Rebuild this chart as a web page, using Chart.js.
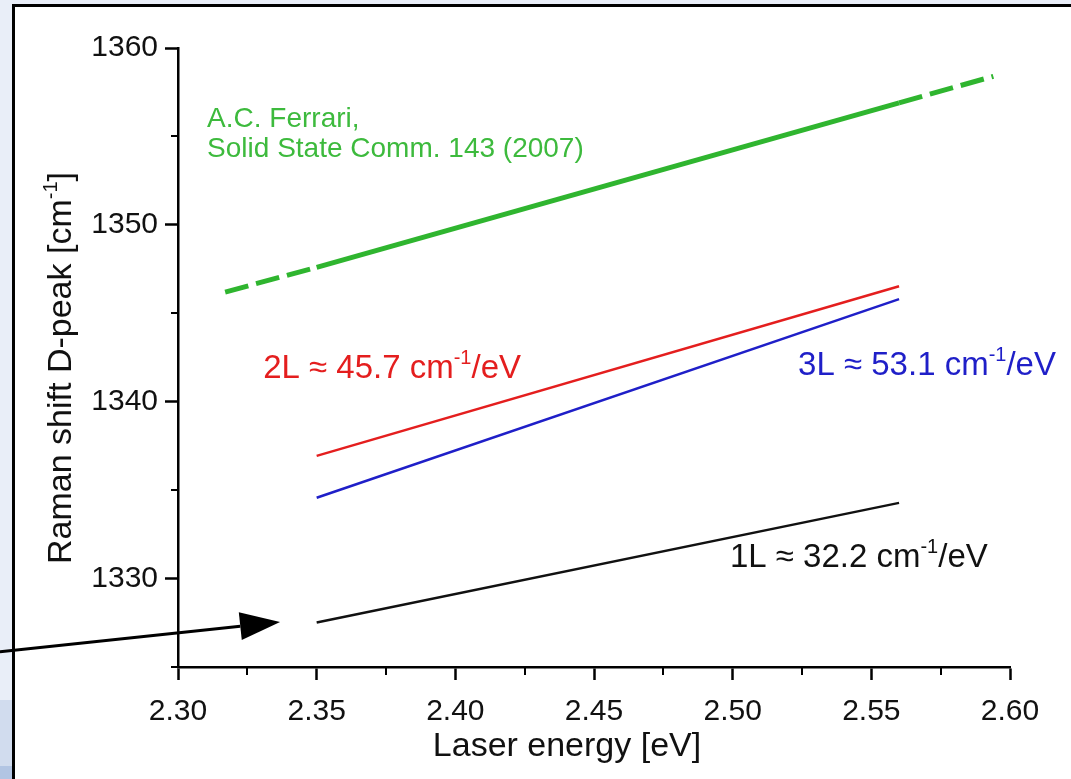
<!DOCTYPE html>
<html>
<head>
<meta charset="utf-8">
<script src="https://cdn.jsdelivr.net/npm/chart.js@4"></script>
<style>
  html, body { margin: 0; padding: 0; overflow: hidden; }
  body {
    width: 1071px; height: 779px; position: relative;
    background: linear-gradient(to bottom, #e9eef8 0px, #e9eef8 700px, #d1dcee 700px, #d1dcee 766px, #b2c5e3 766px);
  }
  #frame {
    position: absolute; left: 12px; top: 4px; width: 1200px; height: 900px;
    background: #fff; border: 3px solid #000;
  }
  #wrap { position: absolute; left: 0; top: 0; width: 1071px; height: 779px; }
</style>
</head>
<body>
<div id="frame"></div>
<div id="wrap"><canvas id="chart_canvas" width="1071" height="779"></canvas></div>
<script>
// laser energy vs D-peak position, fits for 1-3 layers
const energy = [2.35, 2.56];
const shift_1l = [1327.52, 1334.28];
const shift_2l = [1336.94, 1346.53];
const shift_3l = [1334.57, 1345.80];

// literature line (dashed where extrapolated)
const energy_lit = [2.317, 2.35, 2.56, 2.594];
const shift_lit = [1346.2, 1347.6, 1356.9, 1358.4];

const x_ticks = [2.30, 2.35, 2.40, 2.45, 2.50, 2.55, 2.60];
const y_ticks = [1330, 1340, 1350, 1360];
const x_minor = [2.325, 2.375, 2.425, 2.475, 2.525, 2.575];
const y_minor = [1325, 1335, 1345, 1355];

// labels: text, superscript, tail, color, anchor (energy, shift)
const slope_labels = [
  ["2L \u2248 45.7 cm", "-1", "/eV", "#e41e1e", 2.3307, 1341.35],
  ["3L \u2248 53.1 cm", "-1", "/eV", "#1f1fc8", 2.5236, 1341.52],
  ["1L \u2248 32.2 cm", "-1", "/eV", "#111111", 2.4990, 1330.66]
];
const ref_lines = ["A.C. Ferrari,", "Solid State Comm. 143 (2007)"];
const ref_pos = [2.3105, 1355.53, 1353.84];

// arrow pointing at the 1L start, in data units
const arrow_from = [2.2358, 1325.86];
const arrow_to = [2.3368, 1327.55];

const FONT = "'Liberation Sans', Arial, Helvetica, sans-serif";
Chart.defaults.font.family = FONT;

function pts(xs, ys) {
  return xs.map((x, i) => ({ x: x, y: ys[i] }));
}

// text with a raised "-1"
function supText(ctx, x, y, pre, sup, post, size) {
  ctx.font = size + "px " + FONT;
  ctx.fillText(pre, x, y);
  x += ctx.measureText(pre).width;
  ctx.font = Math.round(size * 0.6) + "px " + FONT;
  ctx.fillText(sup, x, y - size * 0.42);
  x += ctx.measureText(sup).width;
  ctx.font = size + "px " + FONT;
  ctx.fillText(post, x, y);
}

function supWidth(ctx, pre, sup, post, size) {
  ctx.font = size + "px " + FONT;
  let w = ctx.measureText(pre).width + ctx.measureText(post).width;
  ctx.font = Math.round(size * 0.6) + "px " + FONT;
  return w + ctx.measureText(sup).width;
}

const extras = {
  id: "extras",
  afterDraw(chart) {
    const ctx = chart.ctx;
    const xs = chart.scales.x, ys = chart.scales.y;
    const area = chart.chartArea;
    ctx.save();

    // minor ticks
    ctx.strokeStyle = "#000";
    ctx.lineWidth = 2;
    ctx.beginPath();
    for (const v of y_minor) {
      const py = Math.round(ys.getPixelForValue(v));
      ctx.moveTo(area.left - 7, py);
      ctx.lineTo(area.left, py);
    }
    for (const v of x_minor) {
      const px = Math.round(xs.getPixelForValue(v));
      ctx.moveTo(px, area.bottom);
      ctx.lineTo(px, area.bottom + 8);
    }
    ctx.stroke();

    // slope labels
    ctx.textBaseline = "alphabetic";
    ctx.textAlign = "left";
    for (const l of slope_labels) {
      ctx.fillStyle = l[3];
      supText(ctx, xs.getPixelForValue(l[4]), ys.getPixelForValue(l[5]), l[0], l[1], l[2], 33);
    }

    // reference
    ctx.fillStyle = "#3dba3d";
    ctx.font = "28px " + FONT;
    ctx.fillText(ref_lines[0], xs.getPixelForValue(ref_pos[0]), ys.getPixelForValue(ref_pos[1]));
    ctx.fillText(ref_lines[1], xs.getPixelForValue(ref_pos[0]), ys.getPixelForValue(ref_pos[2]));

    // axis titles
    ctx.fillStyle = "#111";
    ctx.textAlign = "center";
    ctx.font = "34px " + FONT;
    ctx.fillText("Laser energy [eV]", area.left + 389, 756);
    ctx.save();
    ctx.translate(71, 368);
    ctx.rotate(-Math.PI / 2);
    ctx.textAlign = "left";
    const pre = "Raman shift D-peak [cm", sup = "-1", post = "]";
    const w = supWidth(ctx, pre, sup, post, 34);
    supText(ctx, -w / 2, 0, pre, sup, post, 34);
    ctx.restore();

    // arrow
    const x0 = xs.getPixelForValue(arrow_from[0]), y0 = ys.getPixelForValue(arrow_from[1]);
    const x1 = xs.getPixelForValue(arrow_to[0]), y1 = ys.getPixelForValue(arrow_to[1]);
    const ang = Math.atan2(y1 - y0, x1 - x0);
    const hl = 40, hw = 14;
    const bx = x1 - hl * Math.cos(ang), by = y1 - hl * Math.sin(ang);
    ctx.strokeStyle = "#000";
    ctx.lineWidth = 3;
    ctx.beginPath();
    ctx.moveTo(x0, y0);
    ctx.lineTo(bx, by);
    ctx.stroke();
    ctx.fillStyle = "#000";
    ctx.beginPath();
    ctx.moveTo(x1, y1);
    ctx.lineTo(bx + hw * Math.sin(ang), by - hw * Math.cos(ang));
    ctx.lineTo(bx - hw * Math.sin(ang), by + hw * Math.cos(ang));
    ctx.closePath();
    ctx.fill();

    ctx.restore();
  }
};

function line(data, color, width) {
  return {
    data: data, borderColor: color, borderWidth: width,
    showLine: true, pointRadius: 0, fill: false, tension: 0
  };
}

const lit = line(pts(energy_lit, shift_lit), "#2fb52f", 5);
lit.segment = { borderDash: c => (c.p0DataIndex === 1 ? [] : [24, 8]) };

const chart = new Chart(document.getElementById("chart_canvas").getContext("2d"), {
  type: "scatter",
  data: {
    datasets: [
      lit,
      line(pts(energy, shift_2l), "#e41e1e", 2.5),
      line(pts(energy, shift_3l), "#1f1fc8", 2.5),
      line(pts(energy, shift_1l), "#111111", 2.5)
    ]
  },
  options: {
    responsive: false,
    animation: false,
    events: [],
    layout: { padding: { top: 48, right: 61, left: 0, bottom: 0 } },
    plugins: { legend: { display: false }, tooltip: { enabled: false } },
    scales: {
      x: {
        type: "linear", min: 2.30, max: 2.60,
        afterFit: s => { s.height = 112; },
        afterBuildTicks: s => { s.ticks = x_ticks.map(v => ({ value: v })); },
        border: { color: "#000", width: 2.5 },
        grid: { drawOnChartArea: false, drawTicks: true, tickLength: 13, tickColor: "#000", tickWidth: 2.5 },
        ticks: { color: "#111", padding: 14, font: { size: 30 }, maxRotation: 0, callback: v => v.toFixed(2) }
      },
      y: {
        type: "linear", min: 1325, max: 1360,
        afterFit: s => { s.width = 178; },
        afterBuildTicks: s => { s.ticks = y_ticks.map(v => ({ value: v })); },
        border: { color: "#000", width: 2.5 },
        grid: { drawOnChartArea: false, drawTicks: true, tickLength: 13, tickColor: "#000", tickWidth: 2.5 },
        ticks: { color: "#111", padding: 7, font: { size: 30 }, callback: v => String(v) }
      }
    }
  },
  plugins: [extras]
});
</script>
</body>
</html>
